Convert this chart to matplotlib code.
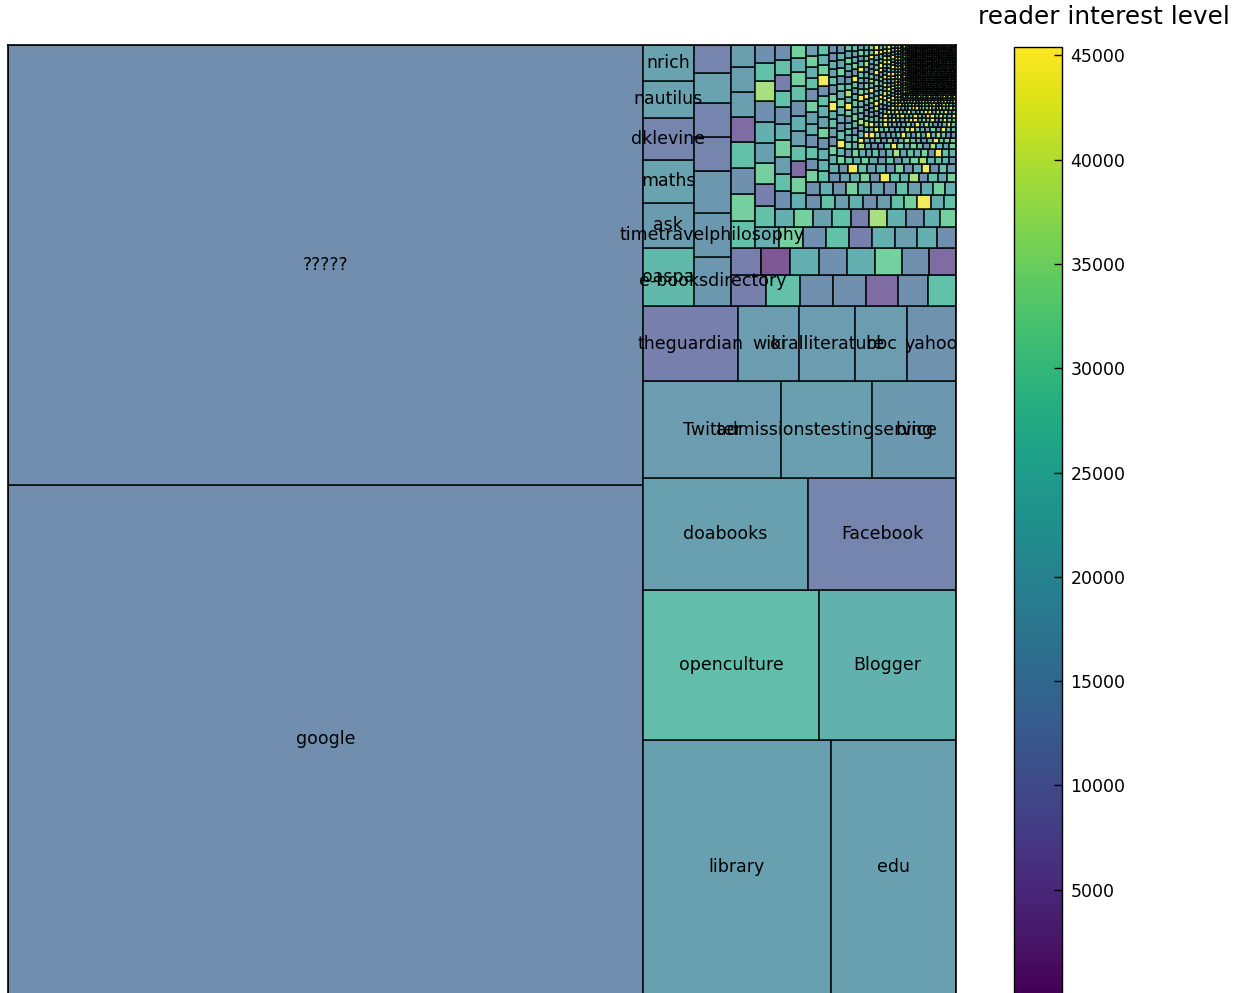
import matplotlib
matplotlib.use("Agg")
import matplotlib.pyplot as plt
from matplotlib import colors as mcolors
from matplotlib import cm

# ---------------- data ----------------
named_labels = ["google", "?????", "library", "edu", "openculture", "Blogger",
                "doabooks", "Facebook", "Twitter", "admissionstestingservice",
                "bing", "theguardian", "wiki", "oralliterature", "bbc", "yahoo",
                "oaspa", "ask", "maths", "dklevine", "nautilus", "nrich",
                "e-booksdirectory", "timetravelphilosophy", "", "", "", "", ""]
named_sizes = [107500, 92800, 15940, 10540, 8790, 6800,
               6200, 5525, 4450, 2910,
               2690, 2400, 1525, 1400, 1300, 1225,
               1003, 765, 731, 725, 629, 612,
               610, 530, 518, 419, 415, 370, 345]
named_levels = [13600, 13600, 18200, 18200, 26300, 22700,
                18200, 11400, 17300, 18000,
                16300, 10000, 17300, 17300, 17300, 14500,
                25000, 16800, 19000, 11400, 19000, 19000,
                16000, 16000, 16000, 11400, 11400, 19000, 11400]

# medium-sized unlabelled referrers (bands as they appear in the picture)
mid_sizes = [
    [362, 351, 351, 341, 331, 310, 289],
    [262, 258, 254, 250, 246, 242, 238, 234],
    [220, 216, 212, 208, 205, 202, 200],
    [175, 172, 170, 168, 166, 164, 162, 160],
    [142, 140, 139, 138, 137, 136, 135, 134, 133],
    [118, 117, 116, 115, 114, 113, 112, 111, 110, 109],
    [98, 97, 96, 95, 94, 93, 92, 91, 90, 89],
    [82, 81, 80, 79, 78, 77, 76, 75, 74, 73, 72],
    [68, 67, 66, 65, 64, 63, 62, 62, 61, 60, 60, 59],
    [56, 56, 55, 55, 54, 54, 53, 53, 52, 52, 51, 51],
    [47, 47, 46, 46, 46, 45, 45, 45, 44, 44, 44, 43, 43],
    [39, 39, 38, 38, 38, 37, 37, 37, 36, 36, 36, 35, 35, 35],
    [33, 33, 32, 32, 32, 31, 31, 31, 30, 30, 30, 29, 29, 29, 28],
    [27, 27, 27, 27, 26, 26, 26, 26, 25, 25, 25, 25, 24, 24, 24, 24],
    [23, 23, 23, 23, 22, 22, 22, 22, 22, 21, 21, 21, 21, 21, 21, 21, 21],
]
# colour code per box (0 = dark purple ... 9 = yellow)
mid_codes = ["2633136", "20535731", "6736144", "45736254", "536274538",
             "6357462853", "5736475362", "63571645367", "573645346795",
             "635375436457", "5736354736574", "65537456397563",
             "457396583647539", "6453735936457346", "59736453375963457"]

# long tail: one size per group, one colour code per referrer of that size
tail_sizes = [20, 17, 15, 13, 11, 10, 9, 8, 7, 6, 5, 4, 3, 2, 1]
tail_codes = [
    "563745365743635785",
    "65337546358465739657",
    "4653795863357465635746",
    "536937546853369757638547",
    "95463735864359677538465973",
    "5695374958633596745386659734",
    "469537495863359674538965473956",
    "96453749586435967453896547396659",
    "95964537495863359674538965473996595",
    "9695379958693596795389659739969659537995",
    "969537995869359679538965973996965953799586935",
    "9695379958693596795389659739969659537995869359679538965",
    "9695379958693596795389659739969659537995869359679538965973996965953799",
    "9695399958693596795389959739969659537995869359679538965"
    "9959399586939967953899597399696595399958693596795389659",
    "95391593519359153951935915395193591539519359153951"
    "39519359153951935915395193591539519359153951935915"
    "91539519359153951935915395193591539519359153951935"
    "53951935915395193591539519359153951935915395193591"
    "19359153951935915395193591539519359153951935915395"
    "93591539519359153951935915395193591539519359153951"
    "35915395193591539519359153951935915395193591539519"
    "59153951935915395193591539519359153951935915395193"
    "15395193591539519359153951935915395193591539519359"
    "39519359153951935915395193591539519359153951935915"
    "95193591539519359153951935915395193591539519359153"
    "51935915395193591539519359153951935915395193591539"
    "19359153951935915395193591539519359153951935915395"
    "93591539519359153951935915395193591539519359153951"
    "35915395193591539519359153951935915395193591539519",
]
code_levels = [2000, 6000, 10000, 14000, 18000, 22000, 27000, 31000, 37000, 44000]
level_min, level_max = 0, 45400
tick_values = [5000, 10000, 15000, 20000, 25000, 30000, 35000, 40000, 45000]

# ---------------- assemble ----------------
sizes = list(named_sizes)
levels = list(named_levels)
labels = list(named_labels)
for band, codes in zip(mid_sizes, mid_codes):
    for i, s in enumerate(band):
        sizes.append(s)
        levels.append(code_levels[int(codes[i % len(codes)])])
        labels.append("")
for s, codes in zip(tail_sizes, tail_codes):
    for c in codes:
        sizes.append(s)
        levels.append(code_levels[int(c)])
        labels.append("")


# ---------------- squarify ----------------
def layoutrow(sz, x, y, dx, dy):
    width = sum(sz) / dy
    out = []
    for s in sz:
        out.append((x, y, width, s / width))
        y += s / width
    return out


def layoutcol(sz, x, y, dx, dy):
    height = sum(sz) / dx
    out = []
    for s in sz:
        out.append((x, y, s / height, height))
        x += s / height
    return out


def layout(sz, x, y, dx, dy):
    return layoutrow(sz, x, y, dx, dy) if dx >= dy else layoutcol(sz, x, y, dx, dy)


def leftover(sz, x, y, dx, dy):
    if dx >= dy:
        w = sum(sz) / dy
        return x + w, y, dx - w, dy
    h = sum(sz) / dx
    return x, y + h, dx, dy - h


def worst_ratio(sz, x, y, dx, dy):
    return max(max(r[2] / r[3], r[3] / r[2]) for r in layout(sz, x, y, dx, dy))


def squarify(sz, x, y, dx, dy):
    rects = []
    sz = list(sz)
    while sz:
        if len(sz) == 1:
            rects += layout(sz, x, y, dx, dy)
            break
        i = 1
        while i < len(sz) and worst_ratio(sz[:i], x, y, dx, dy) >= worst_ratio(sz[:i + 1], x, y, dx, dy):
            i += 1
        cur = sz[:i]
        nx, ny, ndx, ndy = leftover(cur, x, y, dx, dy)
        rects += layout(cur, x, y, dx, dy)
        sz = sz[i:]
        x, y, dx, dy = nx, ny, ndx, ndy
    return rects


W, H = 100.0, 100.0
total = float(sum(sizes))
norm_sizes = [s * W * H / total for s in sizes]
rects = squarify(norm_sizes, 0.0, 0.0, W, H)

# ---------------- plot ----------------
fig = plt.figure(figsize=(12.38, 9.93), dpi=100)
ax = fig.add_axes([8 / 1238, -1 / 993, 948 / 1238, 949 / 993])
norm = mcolors.Normalize(vmin=level_min, vmax=level_max)
cmap = plt.get_cmap("viridis")
cols = [cmap(norm(v)) for v in levels]

ax.bar([r[0] for r in rects], [r[3] for r in rects], width=[r[2] for r in rects],
       bottom=[r[1] for r in rects], color=cols, align="edge",
       edgecolor="black", linewidth=1.3, alpha=0.7)
for r, lab in zip(rects, labels):
    if lab:
        ax.text(r[0] + r[2] / 2, r[1] + r[3] / 2, lab, ha="center", va="center",
                fontsize=12.5, color="black")
ax.set_xlim(0, W)
ax.set_ylim(0, H)
ax.set_xticks([])
ax.set_yticks([])
for sp in ax.spines.values():
    sp.set_linewidth(1.2)

cax = fig.add_axes([1014 / 1238, -1 / 993, 48 / 1238, 947 / 993])
sm = cm.ScalarMappable(norm=norm, cmap=cmap)
cb = fig.colorbar(sm, cax=cax, ticks=tick_values)
cb.ax.tick_params(direction="in", length=6, width=1, labelsize=12.5, pad=6,
                  right=True, left=False)
cb.outline.set_linewidth(1.0)
fig.text(1104 / 1238, 1 - 17 / 993, "reader interest level", ha="center",
         va="center", fontsize=17.8)

fig.savefig("out.png", dpi=100)
